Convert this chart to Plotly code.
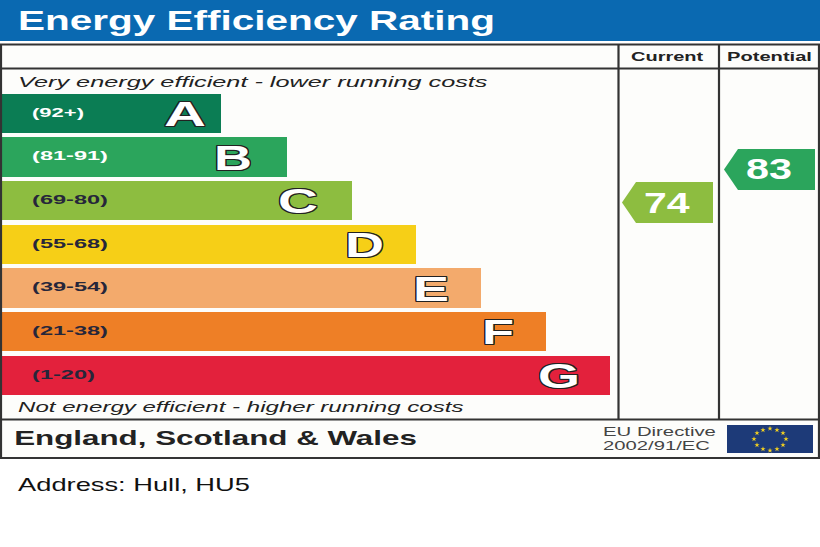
import json
import plotly.graph_objects as go

# ---- data ----
bands = ["A", "B", "C", "D", "E", "F", "G"]
ranges = ["(92+)", "(81-91)", "(69-80)", "(55-68)", "(39-54)", "(21-38)", "(1-20)"]
bar_lengths = [219, 285, 350, 414, 479, 544, 608]
band_colors = ["#0b7d54", "#2ba55c", "#8dbd40", "#f6cf17", "#f3aa6c", "#ee7f26", "#e3213c"]
range_colors = ["white", "white", "#26263a", "#26263a", "#26263a", "#26263a", "#26263a"]
current_rating = 74
potential_rating = 83
current_color = "#8dbd40"
potential_color = "#2ba55c"

W, H = 820, 547
band_y = [113.5, 157, 200.5, 244.5, 288, 331.5, 375.5]
BAR_H = 39.5
BLUE = "#0a69b1"
DARK = "#333333"
LW = 2.2
FONT = "Liberation Sans"

stretch = {}   # text -> width in pixels, the reference's type is set wide

def note(x, y, text, size, width, color="#222222", bold=False, italic=False, **kw):
    stretch[text] = width
    label = text.replace("&", "&amp;")
    if bold:
        label = f"<b>{label}</b>"
    if italic:
        label = f"<i>{label}</i>"
    fig.add_annotation(x=x, y=y, text=label, showarrow=False, xanchor="left", yanchor="middle",
                       borderpad=0, borderwidth=0,
                       font=dict(family=FONT, size=size, color=color, **kw))

fig = go.Figure()

fig.add_trace(go.Bar(
    y=band_y, x=bar_lengths, base=2, orientation="h", width=BAR_H,
    marker=dict(color=band_colors, line=dict(width=0)),
    hoverinfo="skip", showlegend=False,
))

# rating scale: maps a rating to its vertical position
def rating_y(v):
    return 202.5 - (v - 74) * 3.67

def pointer(rating, right, color):
    yc = rating_y(rating)
    left, notch, half = right - 91, right - 77, 20.5
    fig.add_trace(go.Scatter(
        x=[left, notch, right, right, notch, left],
        y=[yc, yc - half, yc - half, yc + half, yc + half, yc],
        mode="lines", fill="toself", fillcolor=color, line=dict(width=0),
        hoverinfo="skip", showlegend=False,
    ))
    note(right - 69, yc - 0.5, str(rating), 30, 46, color="white", bold=True)

pointer(current_rating, 713, current_color)
pointer(potential_rating, 815, potential_color)

shapes = [
    dict(type="rect", x0=0, x1=W, y0=0, y1=41, fillcolor=BLUE, line=dict(width=0), layer="below"),
    dict(type="rect", x0=1, x1=819, y0=44.5, y1=458, fillcolor="#fdfdfb", line=dict(width=0), layer="below"),
    dict(type="rect", x0=1, x1=819, y0=44.5, y1=458, line=dict(color=DARK, width=LW), layer="above"),
    dict(type="line", x0=618.5, x1=618.5, y0=44.5, y1=419.5, line=dict(color=DARK, width=LW)),
    dict(type="line", x0=719, x1=719, y0=44.5, y1=419.5, line=dict(color=DARK, width=LW)),
    dict(type="line", x0=1, x1=819, y0=68.5, y1=68.5, line=dict(color=DARK, width=LW)),
    dict(type="line", x0=1, x1=819, y0=419.5, y1=419.5, line=dict(color=DARK, width=LW)),
    dict(type="rect", x0=727, x1=813, y0=425, y1=453, fillcolor="#1d3a78", line=dict(width=0), layer="below"),
]

note(18, 20, "Energy Efficiency Rating", 28, 477, color="white", bold=True)
note(631, 56.5, "Current", 13.5, 73, bold=True)
note(727, 56.5, "Potential", 13.5, 85, bold=True)
note(18, 81, "Very energy efficient - lower running costs", 15.5, 470, italic=True)
note(18, 406.5, "Not energy efficient - higher running costs", 15.5, 446, italic=True)
note(14, 437.5, "England, Scotland & Wales", 20.5, 403, bold=True)
note(603, 432, "EU Directive", 12.5, 113, color="#444444")
note(603, 446, "2002/91/EC", 12.5, 107, color="#444444")
note(18, 484.5, "Address: Hull, HU5", 17.5, 232, color="#111111")

outline = ",".join(f"{a}px {b}px 0 #222" for a, b in
                   [(1, 0), (-1, 0), (0, 1), (0, -1), (1, 1), (-1, -1), (1, -1), (-1, 1)])
letter_left = [164, 214, 278, 345, 413, 482, 538]
letter_width = [42, 38, 40, 39, 36, 32, 42]
range_width = [52, 76, 76, 76, 76, 76, 63]
for y, r, rc, rw, b, lx, lw in zip(band_y, ranges, range_colors, range_width, bands, letter_left, letter_width):
    note(32, y - 1.5, r, 13.5, rw, color=rc, bold=True)
    note(lx, y, b, 35, lw, color="white", bold=True, shadow=outline)

# EU flag stars
ring_x = [770, 777, 783, 786, 783, 777, 770, 763, 757, 754, 757, 763]
ring_y = [428.5, 430, 433, 439, 445, 449, 450.5, 449, 445, 439, 433, 430]
fig.add_trace(go.Scatter(x=ring_x, y=ring_y, mode="markers",
                         marker=dict(symbol="star", size=4, color="#f5d21e", line=dict(width=0)),
                         hoverinfo="skip", showlegend=False))

fig.update_layout(
    width=W, height=H, margin=dict(l=0, r=0, t=0, b=0),
    paper_bgcolor="white", plot_bgcolor="white",
    xaxis=dict(range=[0, W], visible=False, fixedrange=True),
    yaxis=dict(range=[H, 0], visible=False, fixedrange=True),
    shapes=shapes, bargap=0,
)

post = """
document.body.style.margin='0';
var widths = %s;
document.querySelectorAll('.annotation-text').forEach(function(t){
  var w = widths[t.textContent];
  if(!w) return;
  var b = t.getBBox();
  var s = w / b.width;
  t.setAttribute('transform', 'translate(' + (b.x * (1 - s)) + ',0) scale(' + s + ',1)');
});
""" % json.dumps(stretch)
fig.write_html("out.html", config={"displayModeBar": False}, post_script=post)
